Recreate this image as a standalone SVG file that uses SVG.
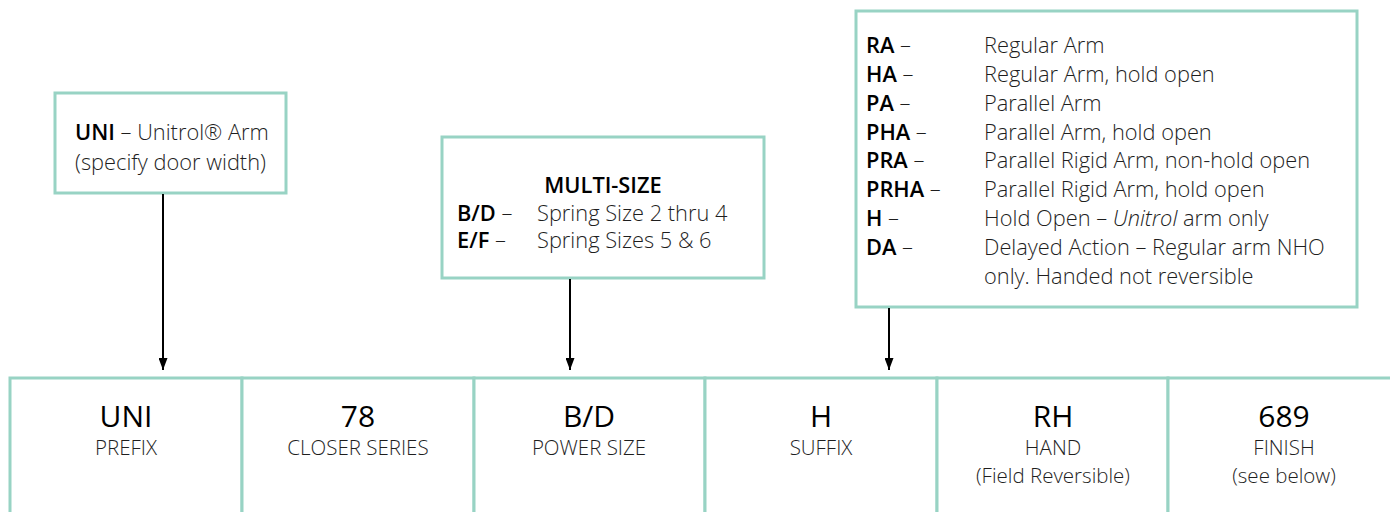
<svg xmlns="http://www.w3.org/2000/svg" width="1390" height="512" viewBox="0 0 1390 512">
<style>
.box{fill:#fff;stroke:#98d3c4;stroke-width:3}
.t{font-family:"Open Sans",Lato,"Liberation Sans",sans-serif;font-size:21.8px;fill:#1e1e1e;font-weight:300}
.b{font-weight:600;fill:#000}
.big{font-family:"Open Sans",Lato,"Liberation Sans",sans-serif;font-size:30px;fill:#000;text-anchor:middle;font-weight:400}
.sub{font-family:"Open Sans",Lato,"Liberation Sans",sans-serif;font-size:20.5px;fill:#1e1e1e;text-anchor:middle;font-weight:300}
.conn{stroke:#000;stroke-width:2;fill:none}
</style>
<defs>
<marker id="ah" viewBox="0 0 12 9" refX="12" refY="4.5" markerWidth="12" markerHeight="9" markerUnits="userSpaceOnUse" orient="auto">
<path d="M0,0 L12,4.5 L0,9 Z" fill="#000"/>
</marker>
</defs>
<rect width="1390" height="512" fill="#fff"/>

<g id="node-uni-note">
<rect class="box" x="55" y="93" width="231" height="100"/>
<text class="t" x="75" y="140"><tspan class="b">UNI</tspan> – Unitrol® Arm</text>
<text class="t" x="75" y="170">(specify door width)</text>
</g>

<g id="node-multisize">
<rect class="box" x="442" y="137" width="322" height="141"/>
<text class="t b" x="603" y="193" text-anchor="middle">MULTI-SIZE</text>
<text class="t" x="457" y="221"><tspan class="b">B/D</tspan> –</text>
<text class="t" x="537" y="221">Spring Size 2 thru 4</text>
<text class="t" x="457" y="248"><tspan class="b">E/F</tspan> –</text>
<text class="t" x="537" y="248">Spring Sizes 5 &amp; 6</text>
</g>

<g id="node-arms">
<rect class="box" x="856" y="11" width="501" height="296"/>
<text class="t" x="866" y="53"><tspan class="b">RA</tspan> –</text>
<text class="t" x="984" y="53">Regular Arm</text>
<text class="t" x="866" y="82"><tspan class="b">HA</tspan> –</text>
<text class="t" x="984" y="82">Regular Arm, hold open</text>
<text class="t" x="866" y="111"><tspan class="b">PA</tspan> –</text>
<text class="t" x="984" y="111">Parallel Arm</text>
<text class="t" x="866" y="140"><tspan class="b">PHA</tspan> –</text>
<text class="t" x="984" y="140">Parallel Arm, hold open</text>
<text class="t" x="866" y="168"><tspan class="b">PRA</tspan> –</text>
<text class="t" x="984" y="168">Parallel Rigid Arm, non-hold open</text>
<text class="t" x="866" y="197"><tspan class="b">PRHA</tspan> –</text>
<text class="t" x="984" y="197">Parallel Rigid Arm, hold open</text>
<text class="t" x="866" y="226"><tspan class="b">H</tspan> –</text>
<text class="t" x="984" y="226">Hold Open – <tspan font-style="italic">Unitrol</tspan> arm only</text>
<text class="t" x="866" y="255"><tspan class="b">DA</tspan> –</text>
<text class="t" x="984" y="255">Delayed Action – Regular arm NHO</text>
<text class="t" x="984" y="284">only. Handed not reversible</text>
</g>

<g id="node-prefix">
<rect class="box" x="10" y="378" width="232" height="140"/>
<text class="big" x="126" y="427">UNI</text>
<text class="sub" x="126" y="455">PREFIX</text>
</g>
<g id="node-series">
<rect class="box" x="242" y="378" width="232" height="140"/>
<text class="big" x="358" y="427">78</text>
<text class="sub" x="358" y="455">CLOSER SERIES</text>
</g>
<g id="node-power">
<rect class="box" x="474" y="378" width="231" height="140"/>
<text class="big" x="589" y="427">B/D</text>
<text class="sub" x="589" y="455">POWER SIZE</text>
</g>
<g id="node-suffix">
<rect class="box" x="705" y="378" width="232" height="140"/>
<text class="big" x="821" y="427">H</text>
<text class="sub" x="821" y="455">SUFFIX</text>
</g>
<g id="node-hand">
<rect class="box" x="937" y="378" width="231" height="140"/>
<text class="big" x="1053" y="427">RH</text>
<text class="sub" x="1053" y="455">HAND</text>
<text class="sub" x="1053" y="483">(Field Reversible)</text>
</g>
<g id="node-finish">
<rect class="box" x="1168" y="378" width="240" height="140"/>
<text class="big" x="1284" y="427">689</text>
<text class="sub" x="1284" y="455">FINISH</text>
<text class="sub" x="1284" y="483">(see below)</text>
</g>

<g id="connectors">
<line class="conn" x1="163" y1="194" x2="163" y2="370" marker-end="url(#ah)"/>
<line class="conn" x1="570" y1="279" x2="570" y2="370" marker-end="url(#ah)"/>
<line class="conn" x1="889" y1="308" x2="889" y2="370" marker-end="url(#ah)"/>
</g>
</svg>
